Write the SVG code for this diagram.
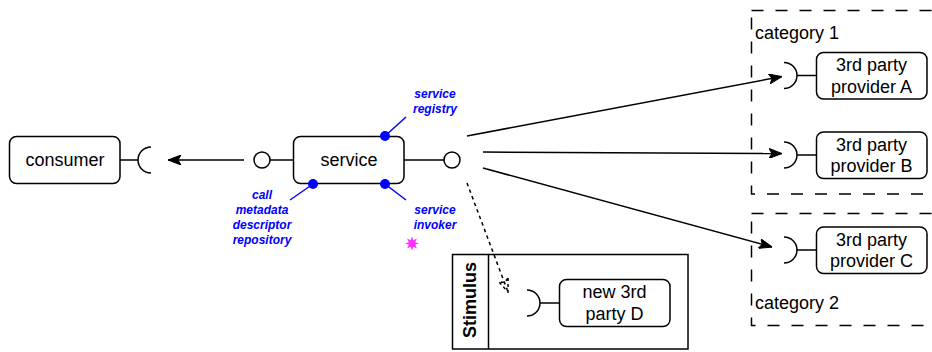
<svg xmlns="http://www.w3.org/2000/svg" width="932" height="352" viewBox="0 0 932 352">
<defs>
<style>
.box{fill:#fff;stroke:#000;stroke-width:1.5}
.ln{fill:none;stroke:#000;stroke-width:1.5}
.lol{fill:#fff;stroke:#000;stroke-width:1.5}
.cat{fill:none;stroke:#000;stroke-width:1.5;stroke-dasharray:12 12}
.t{font-family:"Liberation Sans",Arial,Helvetica,sans-serif;font-size:18px;fill:#000;text-anchor:middle}
.tl{font-family:"Liberation Sans",Arial,Helvetica,sans-serif;font-size:18px;fill:#000}
.bl{font-family:"Liberation Sans",Arial,Helvetica,sans-serif;font-size:12px;font-weight:bold;font-style:italic;fill:#0000ff;text-anchor:middle}
.bdot{fill:#0000ff}
.bln{stroke:#0000ff;stroke-width:1.5;fill:none}
</style>
<marker id="arr" viewBox="0 0 13 10" refX="13" refY="5" markerWidth="13" markerHeight="10" markerUnits="userSpaceOnUse" orient="auto">
<path d="M0,0 L13,5 L0,10 L3,5 Z" fill="#000" stroke="#000" stroke-width="1"/>
</marker>
<marker id="arrd" viewBox="-1 -1 15 12" refX="13" refY="5" markerWidth="15" markerHeight="12" markerUnits="userSpaceOnUse" orient="auto">
<path d="M0,0 L13,5 L0,10 L3,5 Z" fill="none" stroke="#000" stroke-width="1.5" stroke-dasharray="3 3"/>
</marker>
</defs>
<rect width="932" height="352" fill="#fff"/>

<g id="category1">
<rect class="cat" x="751.5" y="10.5" width="210" height="183.5"/>
<text class="tl" x="755" y="39">category 1</text>
</g>
<g id="category2">
<rect class="cat" x="751.5" y="213.5" width="210" height="112"/>
<text class="tl" x="755" y="309">category 2</text>
</g>

<g id="stimulus">
<rect class="box" x="452.5" y="254.5" width="235.5" height="94.5"/>
<line class="ln" x1="488.5" y1="254.5" x2="488.5" y2="349"/>
<text class="t" font-weight="bold" transform="translate(470,300) rotate(-90)" x="0" y="6">Stimulus</text>
</g>

<g id="consumer">
<rect class="box" x="9.5" y="136.5" width="110.5" height="47" rx="7"/>
<text class="t" x="65" y="166">consumer</text>
<line class="ln" x1="120" y1="160" x2="138" y2="160"/>
<path class="ln" d="M151,147 A13,13 0 0 0 151,173"/>
</g>

<g id="service">
<rect class="box" x="293.5" y="136.5" width="110.5" height="47" rx="7"/>
<text class="t" x="349" y="166">service</text>
<line class="ln" x1="270" y1="160" x2="293.5" y2="160"/>
<circle class="lol" cx="262" cy="160" r="8"/>
<line class="ln" x1="404" y1="160" x2="444" y2="160"/>
<circle class="lol" cx="452" cy="160" r="8"/>
</g>

<g id="service-registry">
<line class="bln" x1="385" y1="136" x2="406" y2="117"/>
<circle class="bdot" cx="385" cy="136" r="5"/>
<text class="bl" x="435" y="98">service</text>
<text class="bl" x="435" y="113">registry</text>
</g>

<g id="call-metadata-descriptor-repository">
<line class="bln" x1="313" y1="184" x2="290" y2="200"/>
<circle class="bdot" cx="313" cy="184" r="5"/>
<text class="bl" x="262" y="198.5">call</text>
<text class="bl" x="262" y="213.5">metadata</text>
<text class="bl" x="262" y="228.5">descriptor</text>
<text class="bl" x="262" y="243.5">repository</text>
</g>

<g id="service-invoker">
<line class="bln" x1="385" y1="184" x2="406" y2="200"/>
<circle class="bdot" cx="385" cy="184" r="5"/>
<text class="bl" x="435" y="214">service</text>
<text class="bl" x="435" y="229">invoker</text>
<polygon fill="#ff33ff" points="412,236.5 413.34,240.27 416.95,238.55 415.23,242.16 419,243.5 415.23,244.84 416.95,248.45 413.34,246.73 412,250.5 410.66,246.73 407.05,248.45 408.77,244.84 405,243.5 408.77,242.16 407.05,238.55 410.66,240.27"/>
</g>

<g id="provider-a">
<path class="ln" d="M784,62.5 A13,13 0 0 1 784,88.5"/>
<line class="ln" x1="797" y1="75.5" x2="816.5" y2="75.5"/>
<rect class="box" x="816.5" y="52.5" width="110.5" height="46.5" rx="7"/>
<text class="t" x="871.5" y="71">3rd party</text>
<text class="t" x="871.5" y="92.5">provider A</text>
</g>

<g id="provider-b">
<path class="ln" d="M784,142 A13,13 0 0 1 784,168"/>
<line class="ln" x1="797" y1="155" x2="816.5" y2="155"/>
<rect class="box" x="816.5" y="132" width="110.5" height="46.5" rx="7"/>
<text class="t" x="871.5" y="150.5">3rd party</text>
<text class="t" x="871.5" y="172">provider B</text>
</g>

<g id="provider-c">
<path class="ln" d="M784,237 A13,13 0 0 1 784,263"/>
<line class="ln" x1="797" y1="250" x2="816.5" y2="250"/>
<rect class="box" x="816.5" y="227" width="110.5" height="46.5" rx="7"/>
<text class="t" x="871.5" y="245.5">3rd party</text>
<text class="t" x="871.5" y="267">provider C</text>
</g>

<g id="provider-d">
<path class="ln" d="M527,290 A13,13 0 0 1 527,316"/>
<line class="ln" x1="540" y1="303" x2="559.5" y2="303"/>
<rect class="box" x="559.5" y="279.5" width="110.5" height="47" rx="7"/>
<text class="t" x="614.5" y="297.5">new 3rd</text>
<text class="t" x="614.5" y="319.5">party D</text>
</g>

<g id="connectors">
<line class="ln" x1="244" y1="160" x2="168" y2="160" marker-end="url(#arr)"/>
<line class="ln" x1="467" y1="136" x2="782" y2="76.5" marker-end="url(#arr)"/>
<line class="ln" x1="483" y1="152" x2="782" y2="153.5" marker-end="url(#arr)"/>
<line class="ln" x1="483" y1="168" x2="772" y2="247" marker-end="url(#arr)"/>
<line class="ln" x1="467" y1="183" x2="508" y2="292" stroke-dasharray="3.5 3.5" marker-end="url(#arrd)"/>
</g>
</svg>
